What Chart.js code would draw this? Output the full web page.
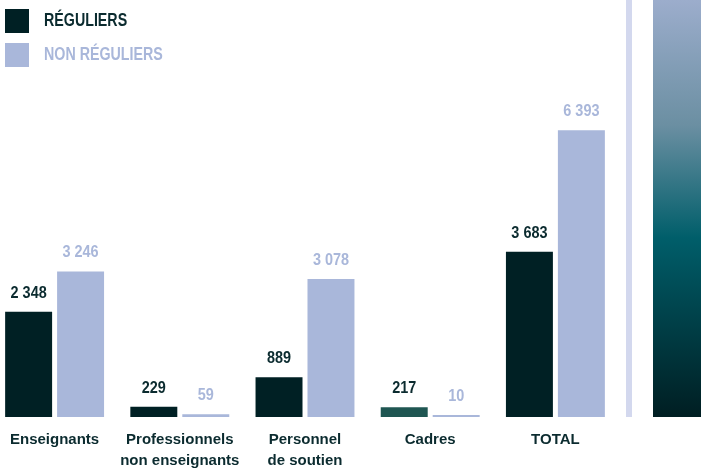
<!DOCTYPE html>
<html lang="fr">
<head>
    <meta charset="UTF-8">
    <title>Effectifs réguliers et non réguliers</title>
    <style>
        body {
            margin: 0;
            padding: 0;
            background-color: #fff;
            font-family: "Liberation Sans", Arial, sans-serif;
        }

        #page {
            position: relative;
            width: 701px;
            height: 470px;
            overflow: hidden;
        }

        #chart-box {
            position: absolute;
            left: -8px; /* first group sits close to the edge */
            top: 0;
            width: 709px;
            height: 470px;
        }

        .legend-item {
            position: absolute;
            left: 5px;
            height: 24px;
            line-height: 24px;
            font-size: 19px;
            font-weight: bold;
        }

        .legend-item span {
            position: absolute;
            left: 0;
            top: 0;
            width: 24px;
            height: 24px;
        }

        .legend-item b {
            position: absolute;
            left: 39px;
            top: -1px;
            white-space: nowrap;
            transform: scaleX(0.75); /* condensed look */
            transform-origin: left center;
        }
    </style>
</head>
<body>
    <div id="page">
        <div id="chart-box">
            <canvas id="chart"></canvas>
        </div>
        <div class="legend-item" style="top: 9px; color: #0b2b2f;">
            <span style="background: #002024;"></span><b>RÉGULIERS</b>
        </div>
        <div class="legend-item" style="top: 43px; color: #a9b7da;">
            <span style="background: #a9b7da;"></span><b>NON RÉGULIERS</b>
        </div>
    </div>

    <script src="https://cdn.jsdelivr.net/npm/chart.js"></script>
    <script>
        var categories = [
            'Enseignants',
            ['Professionnels', 'non enseignants'],
            ['Personnel', 'de soutien'],
            'Cadres',
            'TOTAL'
        ];
        var reguliers = [2348, 229, 889, 217, 3683];
        var nonReguliers = [3246, 59, 3078, 10, 6393];

        var darkColor = '#002024';
        var lightColor = '#a9b7da';
        var textDark = '#0b2b2f';
        // the Cadres bar is drawn in teal in the original
        var regulierColors = [darkColor, darkColor, darkColor, '#1f5652', darkColor];

        function formatNumber(n) {
            return n.toString().replace(/\B(?=(\d{3})+(?!\d))/g, ' ');
        }

        // value labels above each bar (squeezed a bit to look condensed)
        var valueLabels = {
            id: 'valueLabels',
            afterDatasetsDraw: function(chart) {
                var ctx = chart.ctx;
                var sx = 0.85;
                ctx.save();
                ctx.font = 'bold 17px "Liberation Sans", Arial, sans-serif';
                ctx.textAlign = 'center';
                ctx.textBaseline = 'alphabetic';
                chart.data.datasets.forEach(function(ds, i) {
                    var meta = chart.getDatasetMeta(i);
                    ctx.fillStyle = i === 0 ? textDark : lightColor;
                    meta.data.forEach(function(bar, j) {
                        ctx.save();
                        ctx.translate(bar.x, bar.y - 14);
                        ctx.scale(sx, 1);
                        ctx.fillText(formatNumber(ds.data[j]), 0, 0);
                        ctx.restore();
                    });
                });
                ctx.restore();
            }
        };

        // thin rule and gradient band on the right
        var sideDecor = {
            id: 'sideDecor',
            beforeDraw: function(chart) {
                var ctx = chart.ctx;
                var area = chart.chartArea;
                ctx.save();
                ctx.fillStyle = '#d3d8ee';
                ctx.fillRect(area.right + 8, 0, 6, area.bottom);
                var grad = ctx.createLinearGradient(0, 0, 0, area.bottom);
                grad.addColorStop(0, '#9cadcc');
                grad.addColorStop(0.3, '#6b8fa2');
                grad.addColorStop(0.57, '#005e6a');
                grad.addColorStop(1, '#001e22');
                ctx.fillStyle = grad;
                ctx.fillRect(area.right + 35, 0, 48, area.bottom);
                ctx.restore();
            }
        };

        var ctx = document.getElementById('chart').getContext('2d');
        var myChart = new Chart(ctx, {
            type: 'bar',
            data: {
                labels: categories,
                datasets: [{
                    label: 'RÉGULIERS',
                    data: reguliers,
                    backgroundColor: regulierColors,
                    borderWidth: 0,
                    categoryPercentage: 0.83,
                    barPercentage: 0.904,
                    minBarLength: 2
                }, {
                    label: 'NON RÉGULIERS',
                    data: nonReguliers,
                    backgroundColor: lightColor,
                    borderWidth: 0,
                    categoryPercentage: 0.83,
                    barPercentage: 0.904,
                    minBarLength: 2
                }]
            },
            options: {
                responsive: true,
                maintainAspectRatio: false,
                animation: false,
                layout: {
                    padding: { left: 0, right: 83, top: 0, bottom: 0 }
                },
                plugins: {
                    legend: { display: false },
                    tooltip: { enabled: false }
                },
                scales: {
                    x: {
                        grid: { display: false, drawTicks: false },
                        border: { display: false },
                        afterFit: function(scale) {
                            scale.height = 53;
                        },
                        ticks: {
                            color: textDark,
                            padding: 12,
                            maxRotation: 0,
                            autoSkip: false,
                            font: {
                                family: '"Liberation Sans", Arial, sans-serif',
                                size: 15,
                                weight: 'bold',
                                lineHeight: 1.4
                            }
                        }
                    },
                    y: {
                        display: false,
                        min: 0,
                        max: 9300
                    }
                }
            },
            plugins: [valueLabels, sideDecor]
        });
    </script>
</body>
</html>
